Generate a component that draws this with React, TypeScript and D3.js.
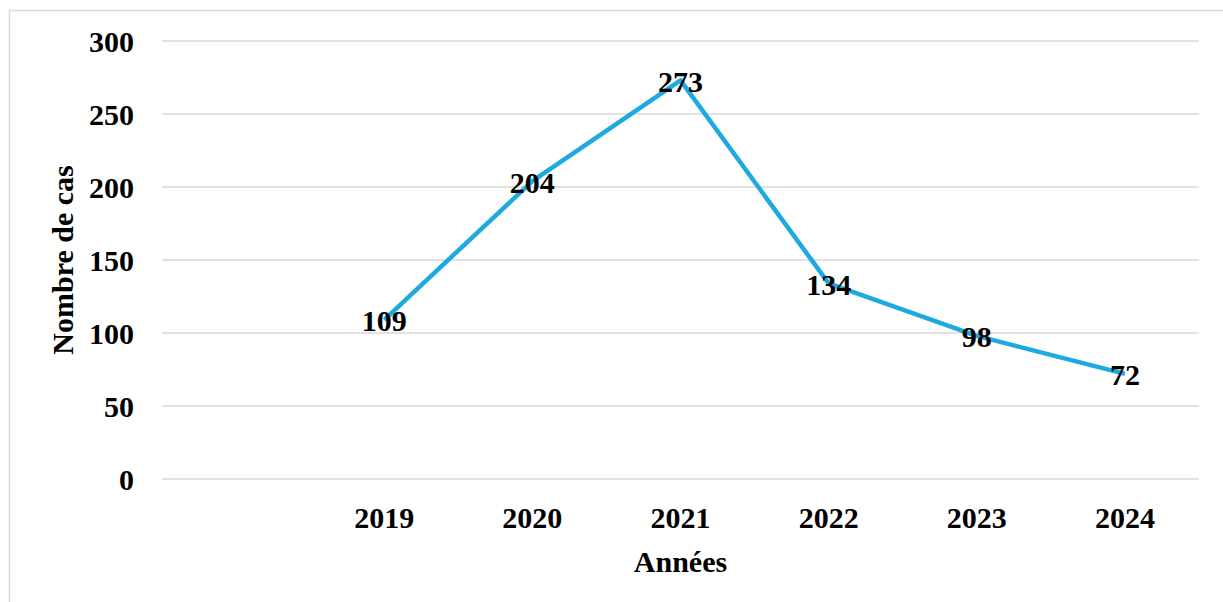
import { useEffect, useRef } from 'react';
import * as d3 from 'd3';

const years = ['', '2019', '2020', '2021', '2022', '2023', '2024'];
const cases = [null, 109, 204, 273, 134, 98, 72];
const yTicks = [0, 50, 100, 150, 200, 250, 300];

export default function App() {
  const ref = useRef<SVGSVGElement | null>(null);

  useEffect(() => {
    if (!ref.current) return;
    const svg = d3.select(ref.current);
    svg.selectAll('*').remove();

    const width = 1223;
    const height = 602;
    const font = '"Liberation Serif", "Times New Roman", serif';
    const fs = 30;
    const left = 162;
    const right = 1199;
    const top = 41;
    const bottom = 479;

    svg.attr('width', width).attr('height', height);

    // outer frame (runs off the right and bottom of the picture)
    svg.append('rect')
      .attr('x', 9.5)
      .attr('y', 10.5)
      .attr('width', 1240)
      .attr('height', 620)
      .attr('fill', 'white')
      .attr('stroke', '#d9d9d9')
      .attr('stroke-width', 1.5);

    const x = d3.scaleBand().domain(years).range([left, right]);
    const y = d3.scaleLinear().domain([0, 300]).range([bottom, top]);

    const grid = svg.append('g');
    yTicks.forEach((t) => {
      grid.append('line')
        .attr('x1', left)
        .attr('x2', right)
        .attr('y1', y(t))
        .attr('y2', y(t))
        .attr('stroke', '#d9d9d9')
        .attr('stroke-width', 1.5);
      grid.append('text')
        .attr('x', 134)
        .attr('y', y(t))
        .attr('dy', '0.35em')
        .attr('text-anchor', 'end')
        .attr('font-family', font)
        .attr('font-weight', 'bold')
        .attr('font-size', fs)
        .text(t);
    });

    years.forEach((yr) => {
      if (!yr) return;
      svg.append('text')
        .attr('x', x(yr)! + x.bandwidth() / 2)
        .attr('y', 528)
        .attr('text-anchor', 'middle')
        .attr('font-family', font)
        .attr('font-weight', 'bold')
        .attr('font-size', fs)
        .text(yr);
    });

    const points = years
      .map((yr, i) => ({ yr, v: cases[i] }))
      .filter((d) => d.v !== null) as { yr: string; v: number }[];

    const line = d3.line<{ yr: string; v: number }>()
      .x((d) => x(d.yr)! + x.bandwidth() / 2)
      .y((d) => y(d.v));

    svg.append('path')
      .attr('d', line(points)!)
      .attr('fill', 'none')
      .attr('stroke', '#1eaae1')
      .attr('stroke-width', 4.5)
      .attr('stroke-linejoin', 'round');

    points.forEach((d) => {
      svg.append('text')
        .attr('x', x(d.yr)! + x.bandwidth() / 2)
        .attr('y', y(d.v))
        .attr('dy', '0.38em')
        .attr('text-anchor', 'middle')
        .attr('font-family', font)
        .attr('font-weight', 'bold')
        .attr('font-size', fs)
        .text(d.v);
    });

    svg.append('text')
      .attr('x', (left + right) / 2)
      .attr('y', 572)
      .attr('text-anchor', 'middle')
      .attr('font-family', font)
      .attr('font-weight', 'bold')
      .attr('font-size', fs)
      .text('Années');

    svg.append('text')
      .attr('transform', `translate(73,${(top + bottom) / 2}) rotate(-90)`)
      .attr('text-anchor', 'middle')
      .attr('font-family', font)
      .attr('font-weight', 'bold')
      .attr('font-size', fs)
      .text('Nombre de cas');
  }, []);

  return (
    <div style={{ position: 'absolute', left: 0, top: 0 }}>
      <svg ref={ref} style={{ display: 'block' }}></svg>
    </div>
  );
}
